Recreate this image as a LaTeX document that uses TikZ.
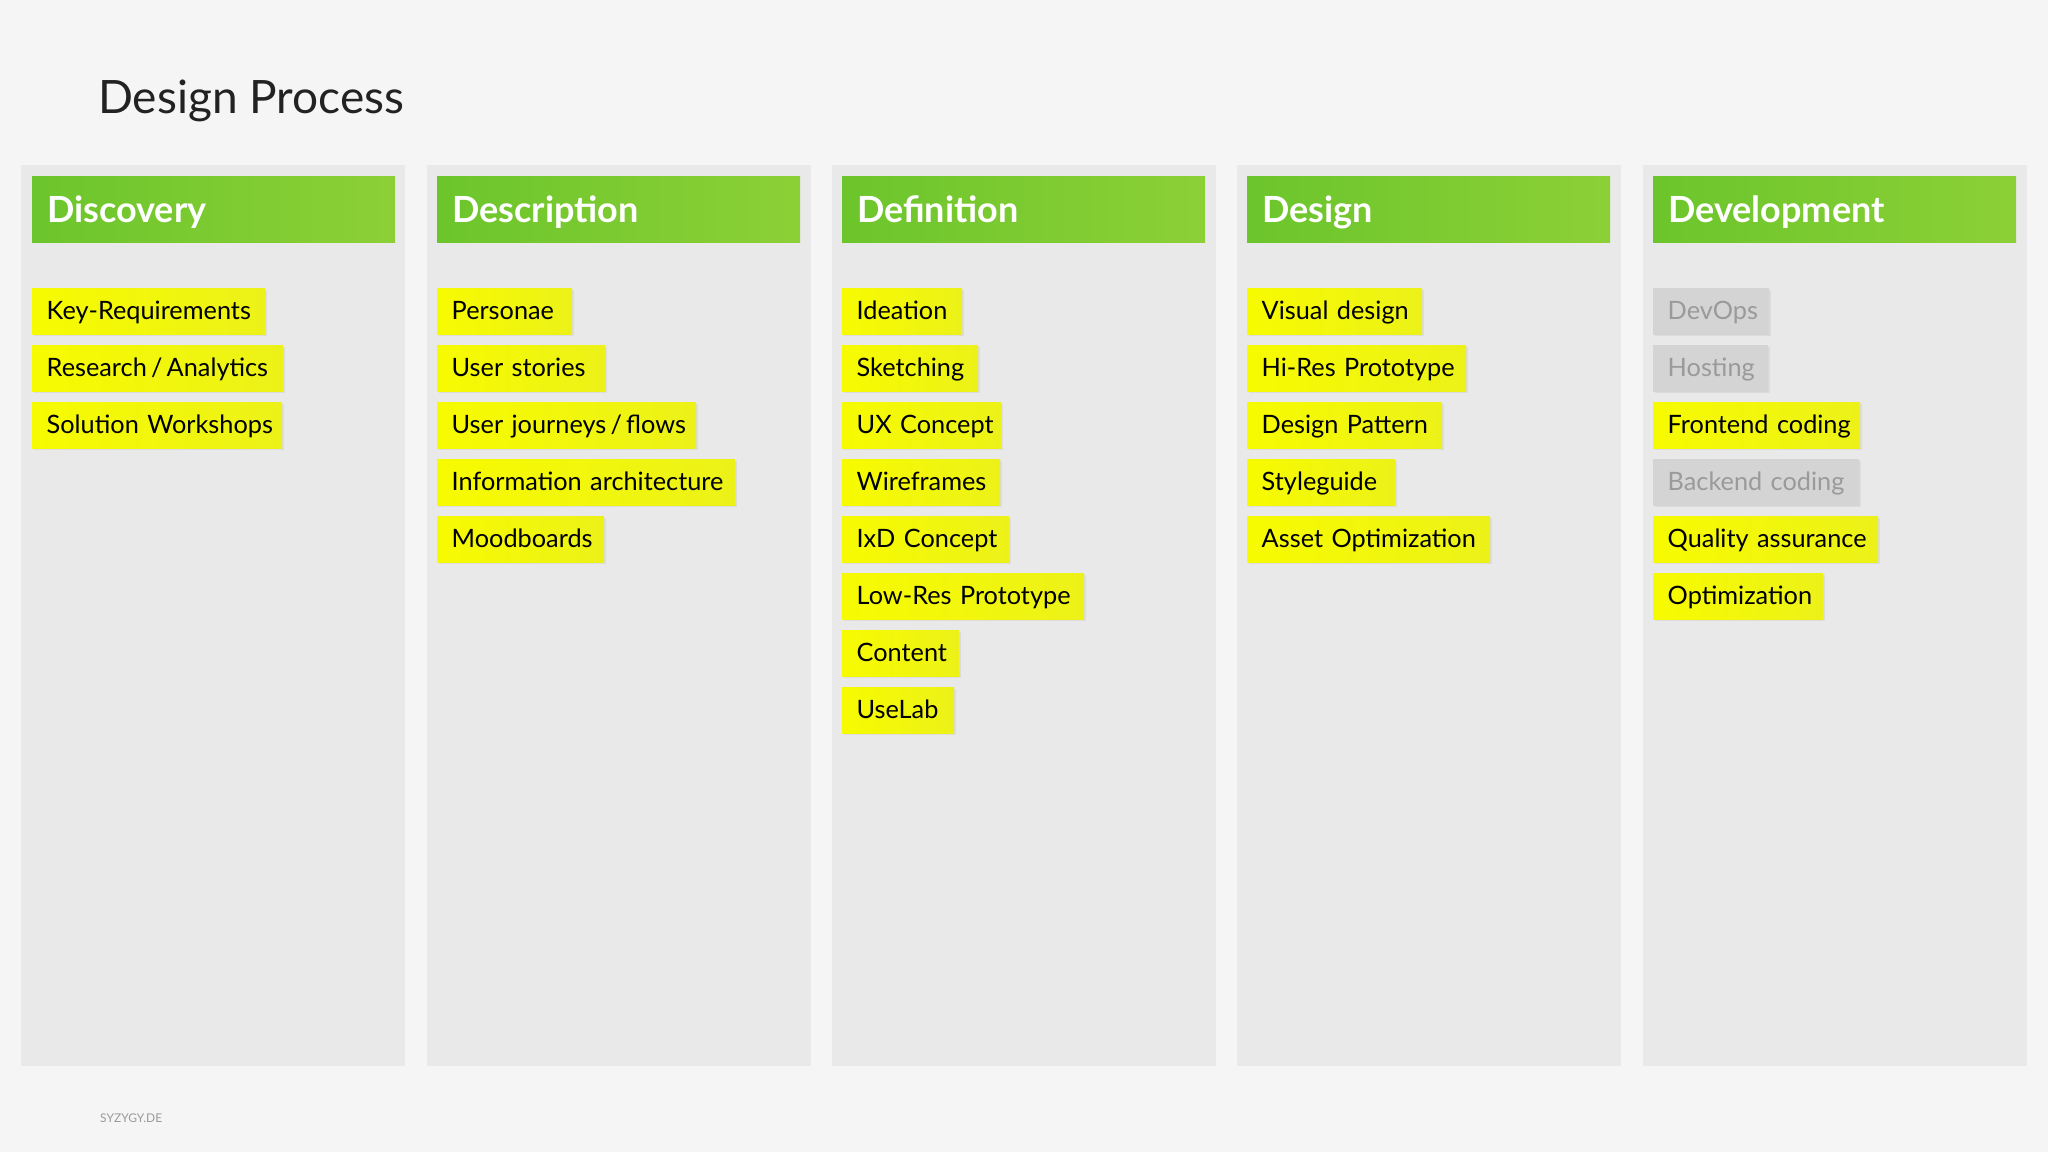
\documentclass[tikz,border=0pt]{standalone}
\usepackage{fontspec}
\setmainfont{Lato}
\usetikzlibrary{shadows}
\definecolor{bgc}{HTML}{F5F5F5}
\definecolor{panelc}{HTML}{E9E9EA}
\definecolor{greenL}{HTML}{6CC52C}
\definecolor{greenR}{HTML}{8CD036}
\definecolor{yelL}{HTML}{F7FB00}
\definecolor{yelR}{HTML}{ECF218}
\definecolor{grayn}{HTML}{D4D4D4}
\definecolor{grayt}{HTML}{9A9A9A}
\definecolor{titlec}{HTML}{222222}
\tikzset{
  panel/.style={fill=panelc, draw=none, anchor=north west, minimum width=384, minimum height=901, inner sep=0},
  hdr/.style={anchor=north west, minimum width=363, minimum height=66, inner xsep=15, inner ysep=0,
    text width=333, align=left, left color=greenL, right color=greenR, draw=none,
    text=white, font=\fontsize{36}{36}\selectfont\bfseries, text height=25.7, text depth=0},
  stickynote/.style={anchor=west, minimum height=46, inner xsep=14.5, inner ysep=0, align=left,
    left color=yelL, right color=yelR, draw=none, text=black,
    font=\fontsize{25.3}{25.3}\selectfont, text height=17.9, text depth=1.7,
    drop shadow={opacity=0.12, shadow xshift=1.5pt, shadow yshift=-1.5pt}},
  graynote/.style={stickynote, left color=grayn, right color=grayn, text=grayt, drop shadow={opacity=0}},
}
\newcommand{\stickyitem}[6][stickynote]{%
  \node[#1, text width=#5-29] (#2) at (#3,{311+57*#4}) {\mbox{#6}};}
\begin{document}
\begin{tikzpicture}[x=1pt,y=-1pt]
\fill[bgc] (0,0) rectangle (2048,1152);
\useasboundingbox (0,0) rectangle (2048,1152);

\node[anchor=base west, text=titlec, font=\fontsize{46}{46}\selectfont, inner sep=0] (title) at (98,113) {Design Process};
\node[anchor=base west, text=grayt, font=\fontsize{12}{12}\selectfont, inner sep=0] (footer) at (100,1122) {SYZYGY.DE};

% panels
\node[panel] (p1) at (21,165) {};
\node[panel] (p2) at (427,165) {};
\node[panel] (p3) at (832,165) {};
\node[panel] (p4) at (1237,165) {};
\node[panel] (p5) at (1643,165) {};

% headers
\node[hdr] (h1) at (32,176) {Discovery};
\node[hdr] (h2) at (437,176) {Description};
\node[hdr] (h3) at (842,176) {Definition};
\node[hdr] (h4) at (1247,176) {Design};
\node[hdr] (h5) at (1653,176) {Development};

% Discovery
\stickyitem{a1}{32}{0}{233}{Key-Requirements}
\stickyitem{a2}{32}{1}{251}{Research\,/\,Analytics}
\stickyitem{a3}{32}{2}{250}{Solution Workshops}

% Description
\stickyitem{b1}{437}{0}{135}{Personae}
\stickyitem{b2}{437}{1}{168}{User stories}
\stickyitem{b3}{437}{2}{259}{User journeys\,/\,flows}
\stickyitem{b4}{437}{3}{298}{Information architecture}
\stickyitem{b5}{437}{4}{167}{Moodboards}

% Definition
\stickyitem{c1}{842}{0}{120}{Ideation}
\stickyitem{c2}{842}{1}{136}{Sketching}
\stickyitem{c3}{842}{2}{159}{UX Concept}
\stickyitem{c4}{842}{3}{158}{Wireframes}
\stickyitem{c5}{842}{4}{167}{IxD Concept}
\stickyitem{c6}{842}{5}{242}{Low-Res Prototype}
\stickyitem{c7}{842}{6}{117}{Content}
\stickyitem{c8}{842}{7}{112}{UseLab}

% Design
\stickyitem{d1}{1247}{0}{175}{Visual design}
\stickyitem{d2}{1247}{1}{219}{Hi-Res Prototype}
\stickyitem{d3}{1247}{2}{195}{Design Pattern}
\stickyitem{d4}{1247}{3}{148}{Styleguide}
\stickyitem{d5}{1247}{4}{243}{Asset Optimization}

% Development
\stickyitem[graynote]{e1}{1653}{0}{116}{DevOps}
\stickyitem[graynote]{e2}{1653}{1}{115}{Hosting}
\stickyitem{e3}{1653}{2}{207}{Frontend coding}
\stickyitem[graynote]{e4}{1653}{3}{206}{Backend coding}
\stickyitem{e5}{1653}{4}{225}{Quality assurance}
\stickyitem{e6}{1653}{5}{170}{Optimization}
\end{tikzpicture}
\end{document}
